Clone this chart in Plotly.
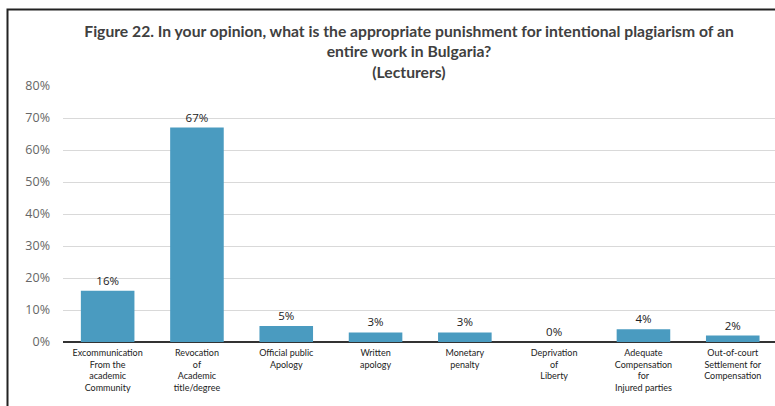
import plotly.graph_objects as go

categories = [
    "Excommunication<br>From the<br>academic<br>Community",
    "Revocation<br>of<br>Academic<br>title/degree",
    "Official public<br>Apology",
    "Written<br>apology",
    "Monetary<br>penalty",
    "Deprivation<br>of<br>Liberty",
    "Adequate<br>Compensation<br>for<br>Injured parties",
    "Out-of-court<br>Settlement for<br>Compensation",
]
values = [16, 67, 5, 3, 3, 0, 4, 2]
tick_vals = [0, 10, 20, 30, 40, 50, 60, 70, 80]
tick_text = [f"{v}%" for v in tick_vals]

W, H = 775, 406
L, T, B = 63, 86, 64

fig = go.Figure(
    go.Bar(
        x=list(range(len(categories))),
        y=values,
        marker=dict(color="#4a9bc0", line=dict(width=0)),
        text=[f"{v}%" for v in values],
        textposition="outside",
        textfont=dict(family="Open Sans", size=11.5, color="#222222"),
        cliponaxis=False,
        width=0.6,
    )
)

plot_w = W - L
plot_h = H - T - B

# outer frame around the figure (left and top edges visible)
fig.add_shape(
    type="rect", xref="paper", yref="paper",
    x0=(7.5 - L) / plot_w, x1=1.2,
    y0=-1.0, y1=(H - B - 9.5) / plot_h,
    line=dict(color="#222222", width=2), fillcolor="rgba(0,0,0,0)",
    layer="below",
)

fig.update_layout(
    width=W, height=H,
    margin=dict(l=L, r=0, t=T, b=B),
    paper_bgcolor="white", plot_bgcolor="white",
    showlegend=False,
    title=dict(
        text="Figure 22. In your opinion, what is the appropriate punishment for intentional plagiarism of an<br>entire work in Bulgaria?<br>(Lecturers)",
        font=dict(family="Lato", size=15.7, color="#404040", weight="bold"),
        xref="container", x=409 / W, xanchor="center",
        yref="container", y=1 - 37 / H, yanchor="top",
    ),
    xaxis=dict(
        tickmode="array",
        tickvals=list(range(len(categories))),
        ticktext=categories,
        range=[-0.5, -0.5 + plot_w / 89.3],
        tickfont=dict(family="Lato", size=9, color="#222222"),
        showgrid=False, zeroline=False,
        showline=False, ticks="", tickangle=0,
        ticklabelstandoff=4,
    ),
    yaxis=dict(
        range=[0, 80],
        tickmode="array", tickvals=tick_vals, ticktext=tick_text,
        tickfont=dict(family="Open Sans", size=12.5, color="#666666"),
        showgrid=True, gridcolor="#d9d9d9", gridwidth=1,
        zeroline=True, zerolinecolor="#333333", zerolinewidth=1.5,
        showline=False, ticks="", ticklabelstandoff=12,
    ),
)

fig.write_html("out.html")
